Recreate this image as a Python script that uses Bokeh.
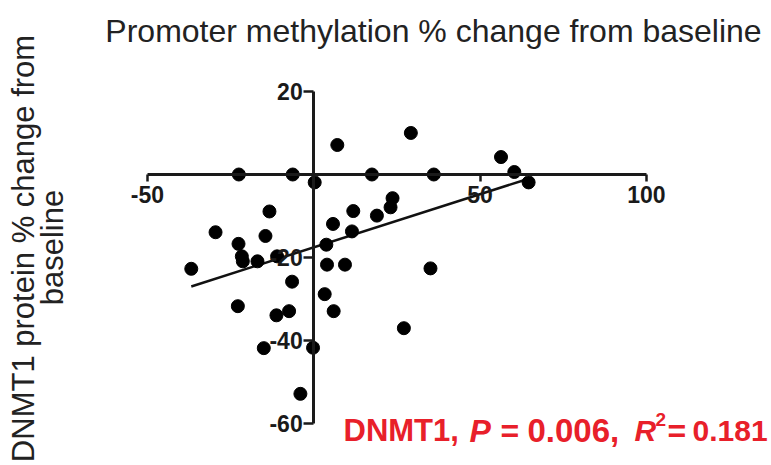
import math
import numpy as np
from bokeh.plotting import figure
from bokeh.models import Range1d, LinearAxis, FixedTicker, Label, ColumnDataSource
from bokeh.embed import file_html
from bokeh.resources import INLINE

# ---- data ----
methylation_change = [
    -36.8, -29.5, -22.6, -22.5, -21.6, -21.3, -16.9, -14.5, -13.3, -11.0,
    -6.5, -22.8, -11.2, -7.4, -15.0, -6.3, -4.0, -0.2, 0.3, 7.1,
    3.8, 4.0, 9.4, 3.3, 6.0, 5.8, 11.5, 11.9, 17.5, 19.0,
    23.1, 23.7, 27.1, 29.2, 35.1, 36.1, 56.3, 60.3, 64.6,
]
protein_change = [
    -22.7, -13.9, -16.7, 0.0, -19.7, -20.9, -20.9, -14.8, -8.9, -19.7,
    -25.8, -31.7, -33.9, -32.9, -41.8, 0.0, -52.8, -41.7, -1.9, 7.1,
    -16.9, -21.7, -21.7, -28.8, -32.9, -11.9, -13.7, -8.8, 0.0, -9.9,
    -7.9, -5.7, -37.0, 10.0, -22.6, 0.0, 4.2, 0.6, -1.9,
]
x_ticks = [-50, 50, 100]
y_ticks = [-60, -40, -20, 20]
x_tick_labels = ["-50", "50", "100"]
y_tick_labels = ["-60", "-40", "-20", "20"]
x_bounds = (-50, 100)
y_bounds = (-60, 20)

title_text = "Promoter methylation % change from baseline"
ylabel_line1 = "DNMT1 protein % change from"
ylabel_line2 = "baseline"

# ---- layout: map of canvas pixels ----
W, H = 771, 465
X0_PX, X_SCALE = 313.2, 3.327   # px of x=0, px per unit
Y0_PX, Y_SCALE = 174.0, 4.154   # px of y=0, px per unit

def dx(px):
    return (px - X0_PX) / X_SCALE

def dy(py):
    return (Y0_PX - py) / Y_SCALE

p = figure(width=W, height=H, output_backend="svg", toolbar_location=None,
           x_range=Range1d(dx(0), dx(W)), y_range=Range1d(dy(H), dy(0)),
           x_axis_location=None, y_axis_location=None, min_border=0, title=None)
p.outline_line_color = None
p.background_fill_color = "white"
p.border_fill_color = "white"
for g in p.grid:
    g.visible = False

FONT = "Liberation Sans"

xa = LinearAxis(fixed_location=0, bounds=x_bounds, ticker=FixedTicker(ticks=x_ticks),
                major_label_overrides={t: s for t, s in zip(x_ticks, x_tick_labels)})
ya = LinearAxis(fixed_location=0, bounds=y_bounds, ticker=FixedTicker(ticks=y_ticks),
                major_label_overrides={t: s for t, s in zip(y_ticks, y_tick_labels)})
for ax, tick_out, standoff in ((xa, 7, 4), (ya, 10, 1)):
    ax.axis_line_width = 3
    ax.axis_line_color = "#1a1a1a"
    ax.major_tick_line_width = 2.5
    ax.major_tick_line_color = "#1a1a1a"
    ax.major_tick_out = tick_out
    ax.major_tick_in = 0
    ax.minor_tick_line_color = None
    ax.major_label_text_font = FONT
    ax.major_label_text_font_style = "bold"
    ax.major_label_text_font_size = "23px"
    ax.major_label_text_color = "#1a1a1a"
    ax.major_label_standoff = standoff
p.add_layout(xa, "below")
p.add_layout(ya, "left")

# regression line (least squares fit of the data)
slope, intercept = np.polyfit(methylation_change, protein_change, 1)
fx = [min(methylation_change), max(methylation_change)]
fy = [slope * v + intercept for v in fx]
p.line(fx, fy, line_color="#111111", line_width=2.5)

src = ColumnDataSource(dict(x=methylation_change, y=protein_change))
p.scatter("x", "y", source=src, size=13, fill_color="black", line_color="black")

# title and y label
p.add_layout(Label(x=dx(433), y=dy(30), text=title_text, text_align="center",
                   text_baseline="alphabetic", text_font=FONT, text_font_size="32px",
                   text_color="#222222"))
p.add_layout(Label(x=dx(23), y=dy(248), text=ylabel_line1, angle=math.pi / 2,
                   text_align="center", text_baseline="alphabetic", text_font=FONT,
                   text_font_size="31px", text_color="#222222"))
p.add_layout(Label(x=dx(52), y=dy(247), text=ylabel_line2, angle=math.pi / 2,
                   text_align="center", text_baseline="alphabetic", text_font=FONT,
                   text_font_size="31px", text_color="#222222"))

# red statistics annotation
RED = "#e8202a"
pieces = [
    ("DNMT1,", 343, "bold", "31px", 430),
    ("P", 469, "bold italic", "32px", 430),
    ("=", 500, "bold", "32px", 430),
    ("0.006,", 527, "bold", "33px", 430),
    ("R", 634, "bold italic", "30px", 430),
    ("2", 655, "bold", "19px", 419),
    ("=", 667, "bold", "32px", 430),
    ("0.181", 692, "bold", "30px", 430),
]
for txt, px, style, size, base in pieces:
    p.add_layout(Label(x=dx(px), y=dy(base), text=txt, text_align="left",
                       text_baseline="alphabetic", text_font=FONT,
                       text_font_style=style, text_font_size=size, text_color=RED))

open("out.html", "w").write(file_html(p, INLINE))
